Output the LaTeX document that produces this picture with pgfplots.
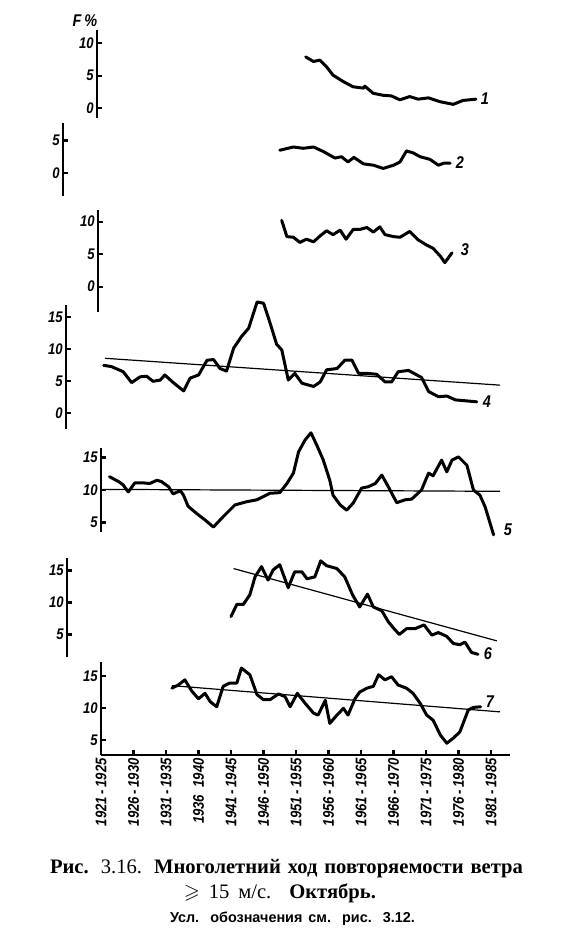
\documentclass[border=0pt]{standalone}
\usepackage{amssymb}
\usepackage{fontspec}
\setmainfont{Liberation Serif}
\newfontfamily\tickfont[FakeStretch=0.85]{Liberation Sans}
\newfontfamily\capsans{Liberation Sans}
\usepackage{pgfplots}
\pgfplotsset{compat=1.18}
\begin{document}
\begin{tikzpicture}
\path[use as bounding box] (0,0) rectangle (286pt,-475pt);
\pgfplotsset{
  every axis/.append style={
    enlargelimits=false, clip=false, x=3.25pt, xmax=1986,
    axis line style={line width=1.1pt},
    tick style={line width=1.1pt, black},
    major tick length=2.5pt,
    tick align=inside,
    /pgf/number format/assume math mode=true,
    yticklabel style={font=\tickfont\bfseries\itshape\fontsize{7.7}{8}\selectfont, inner sep=1.5pt},
  },
  panel/.style={axis x line=none, axis y line*=left},
  curve/.style={black, line width=1.5pt, line join=round, line cap=round},
  trend/.style={black, line width=0.6pt},
}
% Panel 1
\begin{axis}[panel, at={(48.5pt,-59pt)}, anchor=south west, y=3.25pt,
  xmin=1922.4, ymin=-1.5, ymax=12, ytick={0,5,10}]
\addplot[curve] coordinates {(1954.5,7.9)(1955.7,7.2)(1956.7,7.4)(1957.7,6.4)(1958.7,5.1)(1960.3,4.1)(1961.8,3.3)(1963.4,3.1)(1963.6,3.4)(1964.9,2.3)(1966.4,2.0)(1967.7,1.9)(1969,1.3)(1970.5,1.8)(1971.8,1.4)(1973.4,1.6)(1975.2,1.0)(1977.2,0.6)(1978.7,1.2)(1980.7,1.4)};
\end{axis}
% Panel 2
\begin{axis}[panel, at={(31.5pt,-98pt)}, anchor=south west, y=3.25pt,
  xmin=1917.15, ymin=-3.54, ymax=7.7, ytick={0,5}]
\addplot[curve] coordinates {(1950.5,3.5)(1952.6,4.0)(1954.1,3.8)(1955.7,4.0)(1957.2,3.3)(1959,2.3)(1960,2.5)(1961,1.7)(1961.9,2.4)(1963.4,1.4)(1964.9,1.2)(1966.4,0.7)(1968,1.2)(1969,1.7)(1970,3.4)(1971,3.1)(1972.1,2.5)(1973.6,2.1)(1974.9,1.2)(1975.7,1.5)(1976.7,1.5)};
\end{axis}
% Panel 3
\begin{axis}[panel, at={(49pt,-156pt)}, anchor=south west, y=3.25pt,
  xmin=1922.54, ymin=-3.9, ymax=11.8, ytick={0,5,10}]
\addplot[curve] coordinates {(1950.8,10.2)(1951.6,7.7)(1952.6,7.6)(1953.6,6.8)(1954.6,7.3)(1955.7,6.9)(1956.7,7.8)(1957.7,8.6)(1958.7,8.0)(1959.8,8.7)(1960.7,7.3)(1961.8,8.8)(1962.8,8.8)(1963.9,9.1)(1964.9,8.4)(1965.9,9.2)(1966.7,8.0)(1968,7.7)(1969,7.6)(1970.5,8.5)(1971.8,7.2)(1973.1,6.4)(1974.1,5.9)(1975.2,4.7)(1975.9,3.7)(1977,5.2)};
\end{axis}
% Panel 4
\begin{axis}[panel, at={(33pt,-214.5pt)}, anchor=south west, y=3.2pt,
  xmin=1917.6, ymin=-2.45, ymax=16.9, ytick={0,5,10,15}]
\addplot[curve] coordinates {(1923.4,7.5)(1924.6,7.3)(1926.4,6.5)(1927.7,4.8)(1929,5.7)(1930,5.8)(1931,5.0)(1932.1,5.2)(1932.8,6.0)(1934.1,4.8)(1935.7,3.5)(1936.7,5.5)(1938,6.0)(1939.3,8.3)(1940.3,8.4)(1941.3,7.0)(1942.3,6.6)(1943.4,10.2)(1944.6,12.0)(1945.7,13.3)(1947,17.4)(1948,17.2)(1949,14.1)(1950,10.8)(1950.8,9.9)(1951.8,5.2)(1952.8,6.25)(1953.9,4.7)(1955.7,4.2)(1956.7,4.9)(1957.7,6.8)(1959.3,7.0)(1960.5,8.3)(1961.6,8.3)(1962.6,6.25)(1963.9,6.25)(1965.4,6.1)(1966.7,4.9)(1967.7,4.9)(1968.7,6.5)(1970.3,6.7)(1972.3,5.6)(1973.4,3.4)(1974.9,2.6)(1976.2,2.7)(1977.5,2.1)(1980.8,1.8)};
\addplot[trend] coordinates {(1923.6,8.6)(1984.4,4.4)};
\end{axis}
% Panel 5
\begin{axis}[panel, at={(50.5pt,-266pt)}, anchor=south west, y=3.25pt,
  xmin=1923, ymin=3.54, ymax=16.46, ytick={5,10,15}]
\addplot[curve] coordinates {(1924.3,12.05)(1925.7,11.3)(1926.4,10.8)(1927.2,9.7)(1928.2,11.1)(1929.5,11.1)(1930.5,11.0)(1931.6,11.5)(1932.3,11.3)(1933.4,10.5)(1934.1,9.4)(1935.2,9.9)(1935.7,9.2)(1936.4,7.5)(1937.7,6.4)(1939,5.4)(1940.3,4.3)(1941.8,5.9)(1943.6,7.7)(1945.4,8.2)(1947,8.5)(1948,9.0)(1949,9.5)(1950.5,9.6)(1951.6,11.0)(1952.6,12.6)(1953.4,15.9)(1954.4,17.7)(1955.3,18.8)(1956.2,16.9)(1957.2,14.6)(1958.2,11.5)(1958.7,9.2)(1959.8,7.7)(1960.8,6.9)(1961.8,8.0)(1963.1,10.3)(1964.1,10.5)(1965.2,11.0)(1966.2,12.3)(1967.2,10.5)(1968.5,8.05)(1969.8,8.5)(1970.8,8.6)(1972.3,10.0)(1973.4,12.6)(1974.1,12.2)(1975.4,14.6)(1976.2,12.8)(1977,14.6)(1978,15.1)(1979.3,13.8)(1980.3,10.0)(1981.3,9.2)(1982.1,7.4)(1983.4,3.1)};
\addplot[trend] coordinates {(1923.3,10.1)(1984.4,9.8)};
\end{axis}
% Panel 6
\begin{axis}[panel, at={(33.5pt,-328.5pt)}, anchor=south west, y=3.2pt,
  xmin=1917.77, ymin=1.48, ymax=16.95, ytick={5,10,15}]
\addplot[curve] coordinates {(1943,7.8)(1943.9,9.7)(1944.9,9.7)(1945.9,11.2)(1946.7,14.0)(1947.7,15.6)(1948.7,13.5)(1949.5,15.1)(1950.5,15.9)(1951.8,12.3)(1952.8,14.8)(1953.9,14.8)(1954.7,13.7)(1955.9,14.0)(1956.8,16.5)(1957.7,15.75)(1959.3,15.3)(1960.5,14.0)(1961.7,11.2)(1962.8,9.3)(1964,11.3)(1964.9,9.3)(1966.2,8.7)(1967.2,7.0)(1968,6.0)(1968.9,5.0)(1970,5.9)(1971.3,5.9)(1972.7,6.5)(1973.9,4.9)(1974.9,5.3)(1976.2,4.7)(1977.2,3.6)(1978.2,3.4)(1979,3.8)(1980,2.2)(1981,1.9)};
\addplot[trend] coordinates {(1943.4,15.3)(1983.9,4.0)};
\end{axis}
% Panel 7
\begin{axis}[axis x line*=bottom, axis y line*=left, at={(50.5pt,-377.5pt)}, anchor=south west, y=3.2pt,
  xmin=1923, xmax=1985.9, ymin=2.66, ymax=17.2, ytick={5,10,15},
  xtick={1923,1928,1933,1938,1943,1948,1953,1958,1963,1968,1973,1978,1983},
  xticklabels={1921\,-\,1925,1926\,-\,1930,1931\,-\,1935,1936\ \ 1940,1941\,-\,1945,1946\,-\,1950,1951\,-\,1955,1956\,-\,1960,1961\,-\,1965,1966\,-\,1970,1971\,-\,1975,1976\,-\,1980,1981\,-\,1985},
  xticklabel style={rotate=90, anchor=east, font=\tickfont\bfseries\itshape\fontsize{7.7}{8}\selectfont, inner sep=1.5pt}]
\addplot[curve] coordinates {(1933.9,13.1)(1934.9,13.6)(1935.9,14.4)(1937,12.6)(1938,11.45)(1939,12.3)(1939.8,11.0)(1940.8,10.2)(1941.8,13.4)(1942.8,13.9)(1943.9,13.9)(1944.6,16.25)(1945.9,15.2)(1947,12.1)(1948,11.3)(1949,11.3)(1950.3,12.2)(1951.3,11.8)(1952.1,10.2)(1953.2,12.3)(1954.4,10.75)(1955.7,9.2)(1956.4,8.9)(1957.5,11.2)(1958.2,7.6)(1959.3,8.9)(1960.3,9.95)(1961,8.9)(1962.1,11.5)(1962.8,12.5)(1963.9,13.1)(1964.9,13.4)(1965.7,15.2)(1966.7,14.4)(1967.7,14.9)(1968.7,13.6)(1970,13.1)(1971,12.3)(1972.1,10.75)(1973.1,8.9)(1974.1,8.1)(1975.2,5.8)(1976.2,4.5)(1977.2,5.3)(1978.2,6.25)(1979.5,9.7)(1980.3,10.1)(1981.4,10.2)};
\addplot[trend] coordinates {(1933.9,13.5)(1984.4,9.4)};
\end{axis}
% labels
\begin{scope}[every node/.style={font=\tickfont\bfseries\itshape\fontsize{8.5}{9}\selectfont, inner sep=0pt}]
\node at (42.5pt,-10.5pt) {F\,\%};
\node at (242.5pt,-49.5pt) {1};
\node at (230pt,-81.5pt) {2};
\node at (232.5pt,-125pt) {3};
\node at (243.5pt,-201pt) {4};
\node at (254pt,-265pt) {5};
\node at (244pt,-327pt) {6};
\node at (245pt,-351pt) {7};
\end{scope}
\node[inner sep=0pt, anchor=base, font=\fontsize{10.3}{12}\selectfont] at (143.25pt,-436.5pt) {\makebox[236.5pt][s]{\textbf{Рис.} 3.16. \textbf{Многолетний ход повторяемости ветра}}};
\node[inner sep=0pt, anchor=base, font=\fontsize{10.3}{12}\selectfont] at (140pt,-449pt) {\makebox[96pt][s]{$\geqslant$ 15 м/с. \textbf{Октябрь.}}};
\node[inner sep=0pt, anchor=base, font=\capsans\bfseries\fontsize{7.2}{8}\selectfont] at (146.25pt,-461pt) {\makebox[122.5pt][s]{Усл. обозначения см. рис. 3.12.}};
\end{tikzpicture}
\end{document}
